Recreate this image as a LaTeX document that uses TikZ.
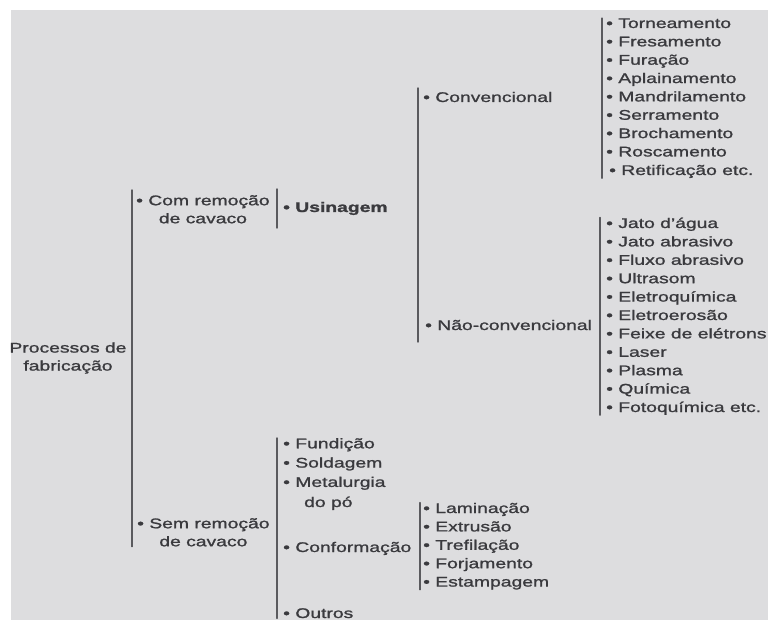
\documentclass[tikz,border=0pt]{standalone}
\usepackage{fontspec}
\setmainfont{Liberation Sans}[FakeStretch=1.38,UprightFeatures={FakeBold=1.3},BoldFeatures={FakeBold=1.5}]
\usetikzlibrary{calc}
\definecolor{fundo}{RGB}{221,221,223}
\definecolor{texto}{RGB}{58,58,62}
\definecolor{traco}{RGB}{90,90,94}

\begin{document}
\begin{tikzpicture}[x=1pt,y=-1pt,line cap=round,
	item/.style={anchor=base west,inner sep=0pt,text=texto,font=\fontsize{14}{18}\selectfont},
	bloco/.style={align=center,inner sep=0pt,text=texto,font=\fontsize{14}{18}\selectfont},
	barra/.style={draw=traco,line width=1.4pt}]
	\useasboundingbox (0,0) rectangle (768,620);
	\fill[fundo] (11,10) rectangle (768,620);
	% raiz e primeiro nivel
	\node[bloco] (proc) at (68,358) {Processos de\\fabricação};
	\node[bloco,anchor=north west] (com) at (136,195) {• Com remoção\\de cavaco};
	\node[bloco,anchor=north west] (sem) at (137,518) {• Sem remoção\\de cavaco};
	\node[item,font=\fontsize{14}{18}\selectfont\bfseries] (usin) at (283,212) {• Usinagem};
	\node[item] (conv) at (423,102) {• Convencional};
	\node[item] (nconv) at (425,330) {• Não-convencional};
	% listas
	\foreach \t [count=\i] in {Torneamento,Fresamento,Furação,Aplainamento,Mandrilamento,Serramento,Brochamento,Roscamento}
		\node[item] (cv\i) at (606,9.65+18.35*\i) {• \t};
	\node[item] (cv9) at (609,175) {• Retificação etc.};
	\foreach \t [count=\i] in {Jato d’água,Jato abrasivo,Fluxo abrasivo,Ultrasom,Eletroquímica,Eletroerosão,Feixe de elétrons,Laser,Plasma,Química,Fotoquímica etc.}
		\node[item] (nc\i) at (606,209.6+18.4*\i) {• \t};
	\foreach \t [count=\i] in {Fundição,Soldagem,Metalurgia}
		\node[item] (sm\i) at (283,429+19.3*\i) {• \t};
	\node[item] (dopo) at (304,507) {do pó};
	\node[item] (conf) at (283,552) {• Conformação};
	\node[item] (outros) at (283,618) {• Outros};
	\foreach \t [count=\i] in {Laminação,Extrusão,Trefilação,Forjamento,Estampagem}
		\node[item] (cf\i) at (423,494.6+18.4*\i) {• \t};
	% barras
	\draw[barra] ([shift={(-4,-5)}]com.north west) coordinate (b1) -- (b1 |- sem.south);
	\path (usin.base west) ++(-6,0) coordinate (b2);
	\draw[barra] (b2 |- com.north) ++(0,-6) -- ++(0,39);
	\draw[barra] (conv.base west) ++(-5,-14) coordinate (b3) -- ($(b3 |- nconv.base)+(0,12)$);
	\draw[barra] ([xshift=-4pt]cv1.north west) coordinate (b5) -- (b5 |- cv9.south);
	\draw[barra] ([xshift=-6pt]nc1.north west) coordinate (b6) -- (b6 |- nc11.south);
	\draw[barra] ([xshift=-6pt]sm1.north west) coordinate (b8) -- (b8 |- outros.south);
	\draw[barra] ([xshift=-3pt]cf1.north west) coordinate (b7) -- (b7 |- cf5.south);
\end{tikzpicture}
\end{document}
